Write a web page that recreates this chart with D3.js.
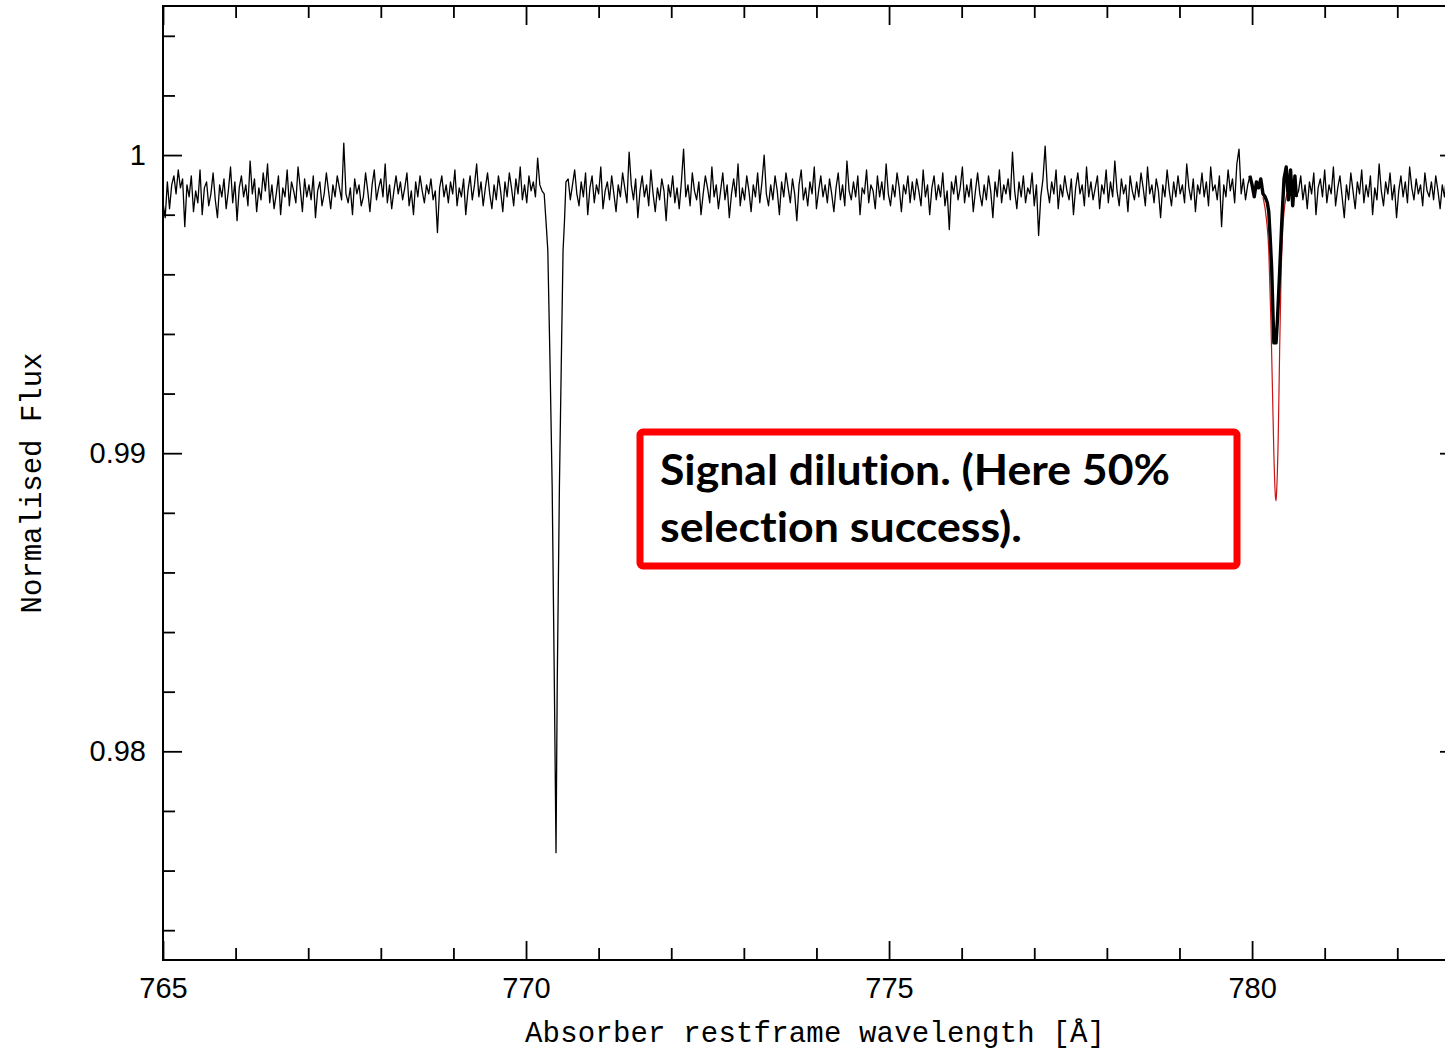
<!DOCTYPE html>
<html>
<head>
<meta charset="utf-8">
<script src="https://cdn.jsdelivr.net/npm/d3@7"></script>
<style>
  body { margin: 0; background: #fff; }
  svg { display: block; }
</style>
</head>
<body>
<div id="dataviz"></div>
<script>
// tick values and labels
var xMajorTicks = [765, 770, 775, 780];
var xMinorTicks = [766, 767, 768, 769, 771, 772, 773, 774, 776, 777, 778, 779, 781, 782];
var yMajorTicks = [0.98, 0.99, 1];
var yTickLabels = ["0.98", "0.99", "1"];
var yMinorTicks = [0.974, 0.976, 0.978, 0.982, 0.984, 0.986, 0.988, 0.992, 0.994, 0.996, 0.998, 1.002, 1.004];

// spectrum: regular 0.03 A pixels, three noisy stretches between the lines
var pixelStep = 0.03;
var noiseAStart = 765.00;
var noiseA = [
  0.9984, 0.9979, 0.9991, 0.9982, 0.9990, 0.9993, 0.9987, 0.9995, 0.9989, 0.9992,
  0.9976, 0.9990, 0.9986, 0.9993, 0.9981, 0.9988, 0.9984, 0.9995, 0.9980, 0.9989,
  0.9991, 0.9983, 0.9987, 0.9994, 0.9985, 0.9979, 0.9990, 0.9986, 0.9992, 0.9982,
  0.9988, 0.9996, 0.9984, 0.9991, 0.9978, 0.9989, 0.9993, 0.9986, 0.9990, 0.9983,
  0.9998, 0.9987, 0.9992, 0.9981, 0.9989, 0.9985, 0.9994, 0.9988, 0.9997, 0.9984,
  0.9990, 0.9982, 0.9987, 0.9993, 0.9980, 0.9989, 0.9986, 0.9995, 0.9983, 0.9991,
  0.9988, 0.9984, 0.9996, 0.9989, 0.9981, 0.9992, 0.9986, 0.9990, 0.9985, 0.9993,
  0.9979, 0.9988, 0.9991, 0.9983, 0.9987, 0.9994, 0.9988, 0.9982, 0.9990, 0.9986,
  0.9993, 0.9989, 0.9985, 1.0004, 0.9987, 0.9984, 0.9989, 0.9980, 0.9992, 0.9987,
  0.9990, 0.9983, 0.9986, 0.9994, 0.9988, 0.9981, 0.9990, 0.9995, 0.9985, 0.9989,
  0.9992, 0.9986, 0.9997, 0.9984, 0.9990, 0.9982, 0.9988, 0.9993, 0.9987, 0.9991,
  0.9985, 0.9989, 0.9994, 0.9983, 0.9988, 0.9980, 0.9991, 0.9986, 0.9993, 0.9988,
  0.9984, 0.9990, 0.9987, 0.9992, 0.9985, 0.9988, 0.9974, 0.9989, 0.9993, 0.9986,
  0.9990, 0.9984, 0.9991, 0.9987, 0.9995, 0.9983, 0.9989, 0.9986, 0.9992, 0.9980,
  0.9988, 0.9993, 0.9985, 0.9990, 0.9997, 0.9986, 0.9991, 0.9983, 0.9989, 0.9994,
  0.9987, 0.9982, 0.9990, 0.9985, 0.9993, 0.9988, 0.9981, 0.9991, 0.9986, 0.9994,
  0.9989, 0.9983, 0.9992, 0.9987, 0.9996, 0.9985, 0.9990, 0.9984, 0.9993, 0.9988,
  0.9991, 0.9986, 0.9999, 0.9990
];

var noiseBStart = 770.58;
var noiseB = [
  0.9992, 0.9985, 0.9990, 0.9995, 0.9987, 0.9983, 0.9991, 0.9986, 0.9994, 0.9980,
  0.9989, 0.9993, 0.9984, 0.9990, 0.9987, 0.9996, 0.9982, 0.9988, 0.9991, 0.9985,
  0.9993, 0.9987, 0.9981, 0.9990, 0.9986, 0.9994, 0.9989, 0.9984, 1.0001, 0.9990,
  0.9985, 0.9992, 0.9979, 0.9988, 0.9993, 0.9986, 0.9990, 0.9983, 0.9995, 0.9987,
  0.9981, 0.9989, 0.9985, 0.9992, 0.9988, 0.9978, 0.9990, 0.9986, 0.9993, 0.9984,
  0.9989, 0.9982, 0.9991, 1.0002, 0.9986, 0.9990, 0.9983, 0.9994, 0.9988, 0.9985,
  0.9991, 0.9980, 0.9987, 0.9993, 0.9989, 0.9984, 0.9996, 0.9986, 0.9990, 0.9982,
  0.9988, 0.9994, 0.9985, 0.9990, 0.9979, 0.9987, 0.9992, 0.9986, 0.9997, 0.9983,
  0.9989, 0.9985, 0.9993, 0.9988, 0.9981, 0.9990, 0.9986, 0.9994, 0.9984, 0.9991,
  1.0000, 0.9987, 0.9983, 0.9990, 0.9985, 0.9993, 0.9988, 0.9980, 0.9991, 0.9986,
  0.9994, 0.9989, 0.9984, 0.9992, 0.9987, 0.9978, 0.9990, 0.9995, 0.9985, 0.9989,
  0.9983, 0.9991, 0.9987, 0.9996, 0.9982, 0.9988, 0.9993, 0.9986, 0.9990, 0.9984,
  0.9992, 0.9987, 0.9981, 0.9989, 0.9994, 0.9985, 0.9990, 0.9983, 0.9998, 0.9988,
  0.9985, 0.9991, 0.9986, 0.9993, 0.9980, 0.9989, 0.9987, 0.9995, 0.9984, 0.9990,
  0.9988, 0.9982, 0.9993, 0.9986, 0.9991, 0.9985, 0.9997, 0.9987, 0.9983, 0.9990,
  0.9986, 0.9994, 0.9989, 0.9981, 0.9990, 0.9987, 0.9993, 0.9984, 0.9991, 0.9985,
  0.9992, 0.9988, 0.9983, 0.9995, 0.9986, 0.9990, 0.9980, 0.9989, 0.9993, 0.9985,
  0.9990, 0.9986, 0.9994, 0.9983, 0.9988, 0.9975, 0.9991, 0.9987, 0.9993, 0.9985,
  0.9989, 0.9996, 0.9984, 0.9990, 0.9986, 0.9992, 0.9981, 0.9988, 0.9994, 0.9987,
  0.9983, 0.9990, 0.9985, 0.9993, 0.9988, 0.9979, 0.9991, 0.9986, 0.9995, 0.9984,
  0.9990, 0.9987, 0.9992, 0.9985, 1.0001, 0.9988, 0.9982, 0.9991, 0.9986, 0.9993,
  0.9984, 0.9989, 0.9987, 0.9994, 0.9983, 0.9990, 0.9973, 0.9986, 0.9992, 1.0003,
  0.9989, 0.9984, 0.9991, 0.9987, 0.9995, 0.9982, 0.9990, 0.9986, 0.9993, 0.9988,
  0.9985, 0.9992, 0.9980, 0.9989, 0.9994, 0.9987, 0.9990, 0.9983, 0.9996, 0.9986,
  0.9991, 0.9985, 0.9989, 0.9993, 0.9982, 0.9990, 0.9987, 0.9995, 0.9984, 0.9991,
  0.9986, 0.9998, 0.9988, 0.9983, 0.9992, 0.9987, 0.9990, 0.9981, 0.9993, 0.9988,
  0.9985, 0.9991, 0.9986, 0.9994, 0.9989, 0.9983, 0.9996, 0.9987, 0.9990, 0.9984,
  0.9992, 0.9988, 0.9979, 0.9990, 0.9986, 0.9995, 0.9988, 0.9983, 0.9991, 0.9986,
  0.9993, 0.9987, 0.9990, 0.9984, 0.9997, 0.9989, 0.9985, 0.9992, 0.9981, 0.9990,
  0.9987, 0.9994, 0.9986, 0.9991, 0.9983, 0.9996, 0.9988, 0.9990, 0.9985, 0.9993,
  0.9976, 0.9990, 0.9986, 0.9995, 0.9988, 0.9992, 0.9984, 0.9997, 1.0002, 0.9987,
  0.9992, 0.9985, 0.9990
];

var noiseCStart = 780.64;
var noiseC = [
  0.9988, 0.9993, 0.9985, 0.9990, 0.9982, 0.9991, 0.9987, 0.9994, 0.9980, 0.9989,
  0.9992, 0.9986, 0.9995, 0.9984, 0.9990, 0.9987, 0.9996, 0.9983, 0.9989, 0.9993,
  0.9986, 0.9979, 0.9990, 0.9985, 0.9994, 0.9988, 0.9982, 0.9991, 0.9987, 0.9995,
  0.9984, 0.9990, 0.9986, 0.9993, 0.9980, 0.9989, 0.9985, 0.9997, 0.9988, 0.9983,
  0.9991, 0.9987, 0.9994, 0.9985, 0.9990, 0.9979, 0.9988, 0.9993, 0.9986, 0.9991,
  0.9984, 0.9996, 0.9989, 0.9985, 0.9992, 0.9987, 0.9990, 0.9983, 0.9994, 0.9988,
  0.9986, 0.9991, 0.9985, 0.9993, 0.9988, 0.9982, 0.9990, 0.9986, 0.9994, 0.9989,
  0.9985, 0.9992, 0.9987, 0.9990, 0.9984, 0.9991, 0.9988
];

// strong line near 770.4 A
var line1Wave = [770.22, 770.25, 770.28, 770.30, 770.33, 770.36, 770.39, 770.413, 770.43, 770.46, 770.49, 770.51, 770.53, 770.55];
var line1Flux = [0.9988, 0.9987, 0.9976, 0.9968, 0.9931, 0.9889, 0.9823, 0.9766, 0.9823, 0.9889, 0.9937, 0.9968, 0.9978, 0.9991];

// diluted stack near 780.3 A (thick black)
var line2Wave = [779.97, 780.00, 780.03, 780.06, 780.09, 780.12, 780.15, 780.18, 780.21, 780.23, 780.25, 780.27, 780.29,
                 780.30, 780.33, 780.35, 780.38, 780.41, 780.44, 780.47, 780.50, 780.53, 780.56, 780.59, 780.61];
var line2Flux = [0.9993, 0.9990, 0.9986, 0.9991, 0.9989, 0.9992, 0.9987, 0.9986, 0.9984, 0.9981, 0.9972, 0.9962, 0.9945,
                 0.9937, 0.9937, 0.9945, 0.9961, 0.9978, 0.9992, 0.9996, 0.9985, 0.9995, 0.9983, 0.9993, 0.9986];

// undiluted line (red)
var modelWave = [780.15, 780.20, 780.23, 780.26, 780.28, 780.30, 780.32, 780.33, 780.34, 780.36, 780.38, 780.40, 780.43, 780.48];
var modelFlux = [0.9986, 0.9978, 0.9968, 0.9944, 0.9922, 0.9900, 0.9886, 0.9884, 0.9888, 0.9905, 0.9935, 0.9960, 0.9978, 0.9987];

var annotationLines = ["Signal dilution. (Here 50%", "selection success)."];

var W = 1445, H = 1052;
var plot = {left: 163, top: 6, right: 1459, bottom: 960};

var svg = d3.select("#dataviz")
  .append("svg")
    .attr("width", W)
    .attr("height", H);

var x = d3.scaleLinear().domain([765, 782.85]).range([plot.left, plot.right]);
var y = d3.scaleLinear().domain([0.973, 1.005]).range([plot.bottom, plot.top]);

function pixels(start, flux) {
  return flux.map(function(f, i) { return [start + i * pixelStep, f]; });
}
function pairs(w, f) {
  return w.map(function(v, i) { return [v, f[i]]; });
}

var spectrum = [].concat(
  pixels(noiseAStart, noiseA),
  pairs(line1Wave, line1Flux),
  pixels(noiseBStart, noiseB),
  pairs(line2Wave, line2Flux),
  pixels(noiseCStart, noiseC)
);

var line = d3.line()
  .x(function(d) { return x(d[0]); })
  .y(function(d) { return y(d[1]); });

svg.append("defs").append("clipPath")
    .attr("id", "clip")
  .append("rect")
    .attr("x", plot.left)
    .attr("y", plot.top)
    .attr("width", plot.right - plot.left)
    .attr("height", plot.bottom - plot.top);

var data = svg.append("g").attr("clip-path", "url(#clip)");

data.append("path")
  .datum(spectrum)
  .attr("fill", "none")
  .attr("stroke", "#000")
  .attr("stroke-width", 1.3)
  .attr("stroke-linejoin", "round")
  .attr("d", line);

data.append("path")
  .datum(pairs(modelWave, modelFlux))
  .attr("fill", "none")
  .attr("stroke", "#c81414")
  .attr("stroke-width", 1.2)
  .attr("d", line.curve(d3.curveMonotoneX));

line.curve(d3.curveLinear);

data.append("path")
  .datum(pairs(line2Wave, line2Flux))
  .attr("fill", "none")
  .attr("stroke", "#000")
  .attr("stroke-width", 3.4)
  .attr("stroke-linejoin", "round")
  .attr("d", line);

// frame and ticks (PGPLOT style, ticks inside)
svg.append("rect")
  .attr("x", plot.left)
  .attr("y", plot.top)
  .attr("width", plot.right - plot.left)
  .attr("height", plot.bottom - plot.top)
  .attr("fill", "none")
  .attr("stroke", "#000")
  .attr("stroke-width", 2);

function tickStyle(g) {
  g.select(".domain").remove();
  g.selectAll(".tick line").attr("stroke", "#000").attr("stroke-width", 1.8);
}

var xBottom = svg.append("g")
  .attr("transform", "translate(0," + plot.bottom + ")")
  .call(d3.axisBottom(x).tickValues(xMajorTicks).tickSize(-19).tickPadding(17).tickFormat(d3.format("d")))
  .call(tickStyle);
xBottom.selectAll("text")
  .attr("fill", "#000")
  .style("font-family", "'Liberation Sans', Arial, sans-serif")
  .style("font-size", "29px");

svg.append("g")
  .attr("transform", "translate(0," + plot.bottom + ")")
  .call(d3.axisBottom(x).tickValues(xMinorTicks).tickSize(-12).tickFormat(""))
  .call(tickStyle);

svg.append("g")
  .attr("transform", "translate(0," + plot.top + ")")
  .call(d3.axisTop(x).tickValues(xMajorTicks).tickSize(-19).tickFormat(""))
  .call(tickStyle);

svg.append("g")
  .attr("transform", "translate(0," + plot.top + ")")
  .call(d3.axisTop(x).tickValues(xMinorTicks).tickSize(-12).tickFormat(""))
  .call(tickStyle);

var yLeft = svg.append("g")
  .attr("transform", "translate(" + plot.left + ",0)")
  .call(d3.axisLeft(y).tickValues(yMajorTicks).tickSize(-19).tickPadding(17)
    .tickFormat(function(d, i) { return yTickLabels[i]; }))
  .call(tickStyle);
yLeft.selectAll("text")
  .attr("fill", "#000")
  .style("font-family", "'Liberation Sans', Arial, sans-serif")
  .style("font-size", "29px");

svg.append("g")
  .attr("transform", "translate(" + plot.left + ",0)")
  .call(d3.axisLeft(y).tickValues(yMinorTicks).tickSize(-12).tickFormat(""))
  .call(tickStyle);

svg.append("g")
  .attr("transform", "translate(" + plot.right + ",0)")
  .call(d3.axisRight(y).tickValues(yMajorTicks).tickSize(-19).tickFormat(""))
  .call(tickStyle);

svg.append("g")
  .attr("transform", "translate(" + plot.right + ",0)")
  .call(d3.axisRight(y).tickValues(yMinorTicks).tickSize(-12).tickFormat(""))
  .call(tickStyle);

// axis titles
svg.append("text")
  .attr("x", (plot.left + plot.right) / 2 + 4)
  .attr("y", 1042)
  .attr("text-anchor", "middle")
  .attr("textLength", 580)
  .style("font-family", "'Liberation Mono', 'Courier New', monospace")
  .style("font-size", "29px")
  .attr("fill", "#000")
  .text("Absorber restframe wavelength [Å]");

svg.append("text")
  .attr("transform", "translate(41," + ((plot.top + plot.bottom) / 2) + ") rotate(-90)")
  .attr("text-anchor", "middle")
  .style("font-family", "'Liberation Mono', 'Courier New', monospace")
  .style("font-size", "29px")
  .attr("fill", "#000")
  .text("Normalised Flux");

// annotation box
svg.append("rect")
  .attr("x", 640)
  .attr("y", 432)
  .attr("width", 597)
  .attr("height", 134)
  .attr("rx", 3)
  .attr("fill", "#fff")
  .attr("stroke", "#ff0000")
  .attr("stroke-width", 7);

var annoWidths = [510, 362];
annotationLines.forEach(function(t, i) {
  svg.append("text")
    .attr("x", 660)
    .attr("y", 485 + i * 57)
    .attr("textLength", annoWidths[i])
    .attr("lengthAdjust", "spacingAndGlyphs")
    .style("font-family", "Lato, 'Open Sans', sans-serif")
    .style("font-weight", "bold")
    .style("font-size", "42px")
    .style("font-variant-ligatures", "none")
    .style("font-feature-settings", "'liga' 0, 'clig' 0")
    .attr("fill", "#000")
    .text(t);
});
</script>
</body>
</html>
